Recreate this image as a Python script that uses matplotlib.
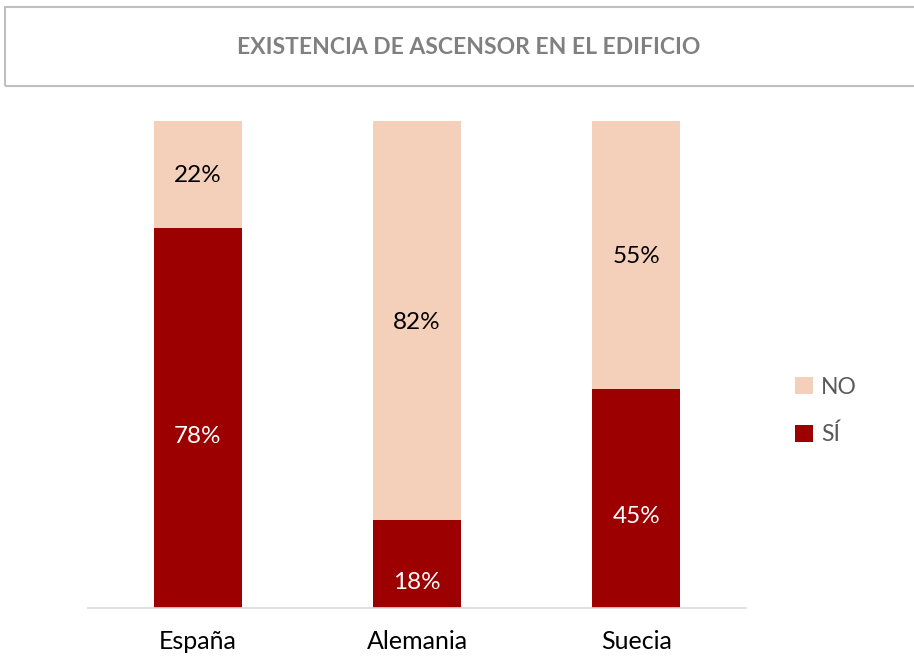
import matplotlib
matplotlib.use("Agg")
import matplotlib.pyplot as plt
from matplotlib.patches import Rectangle
import numpy as np

categories = ["España", "Alemania", "Suecia"]
si_values = [78, 18, 45]
no_values = [22, 82, 55]
title = "EXISTENCIA DE ASCENSOR EN EL EDIFICIO"

plt.rcParams['font.family'] = ['Lato', 'DejaVu Sans']

W, H = 914, 658
fig = plt.figure(figsize=(W/100, H/100), dpi=100)

# title box
fig.patches.append(Rectangle((5/W, 1 - 86/H), 1.2, (86-7)/H, transform=fig.transFigure,
                             fill=False, edgecolor='#BFBFBF', linewidth=1.5))
fig.text(469/W, 1 - 48/H, title, ha='center', va='center', fontsize=16.5,
         fontweight='bold', color='#808080')

ax = fig.add_axes([88/W, (H-608)/H, (746-88)/W, (608-121)/H])
x = np.arange(len(categories))
c_si = '#9C0000'
c_no = '#F4CFB9'
si = np.array(si_values)
no = np.array(no_values)
b1 = ax.bar(x, si, width=0.40, color=c_si, label='SÍ')
b2 = ax.bar(x, no, width=0.40, bottom=si, color=c_no, label='NO')
for xi, s, n in zip(x, si, no):
    ax.annotate(f"{s}%", (xi, s/2), xytext=(0, -13), textcoords='offset points',
                ha='center', va='center', color='white', fontsize=17.5)
    ax.annotate(f"{n}%", (xi, s + n/2), xytext=(0, -1), textcoords='offset points',
                ha='center', va='center', color='black', fontsize=17.5)

ax.set_xlim(-0.5, 2.5)
ax.set_ylim(0, 100)
ax.set_xticks(x)
ax.set_xticklabels(categories, fontsize=18, color='black')
ax.tick_params(axis='x', length=0, pad=16)
ax.set_yticks([])
for s in ['top', 'right', 'left']:
    ax.spines[s].set_visible(False)
ax.spines['bottom'].set_color('#D9D9D9')
ax.spines['bottom'].set_linewidth(1.2)

handles = [b2, b1]
leg = fig.legend(handles, ['NO', 'SÍ'], loc='center left',
                 bbox_to_anchor=(774/W, 1 - 411/H), frameon=False,
                 fontsize=16.5, labelcolor='#595959', handlelength=0.8,
                 handleheight=0.8, handletextpad=0.35, labelspacing=1.15)

fig.savefig("out.png", dpi=100)
